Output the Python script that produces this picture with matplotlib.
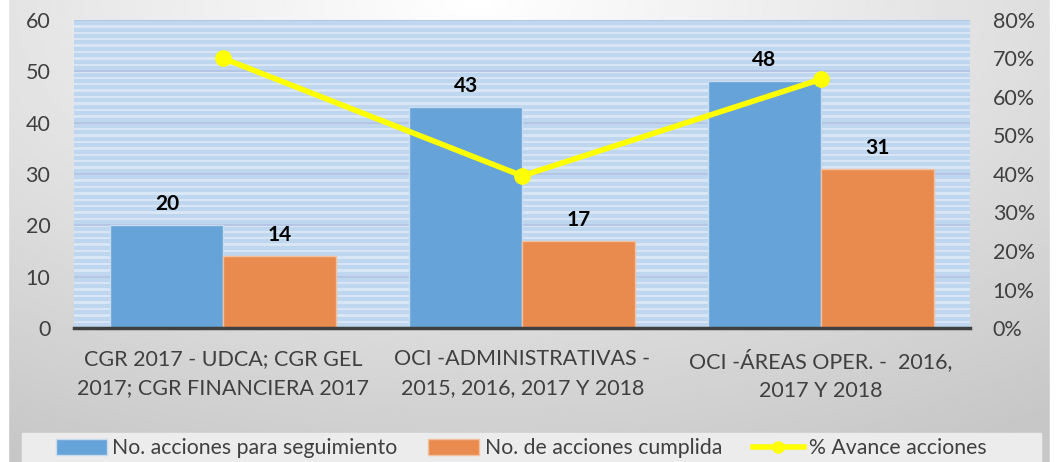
import numpy as np
import matplotlib.pyplot as plt
from matplotlib.lines import Line2D
from matplotlib.patches import Patch, Rectangle

plt.rcParams['font.family'] = ['Lato', 'DejaVu Sans']

# data
categorias = ["CGR 2017 - UDCA; CGR GEL\n2017; CGR FINANCIERA 2017",
              "OCI -ADMINISTRATIVAS -\n2015, 2016, 2017 Y 2018",
              "OCI -ÁREAS OPER. -  2016,\n2017 Y 2018"]
seguimiento = [20, 43, 48]
cumplidas = [14, 17, 31]
avance = [0.70, 0.395, 0.646]

fig = plt.figure(figsize=(10.56, 4.62), dpi=100)

# gray gradient background
bg = fig.add_axes([0, 0, 1, 1], zorder=-10)
yy, xx = np.mgrid[0:1:200j, 0:1:400j]
r = np.sqrt(((xx - 0.45) * 1.1) ** 2 + ((yy - 0.0) * 0.9) ** 2)
bg.imshow(1 - 0.22 * np.clip(r, 0, 1), cmap='gray', vmin=0, vmax=1,
          extent=[0, 1, 0, 1], aspect='auto', origin='upper')
bg.add_patch(Rectangle((0, 0), 0.008, 1, color='#ffffff', zorder=2))
bg.add_patch(Rectangle((0.021, 0), 0.965, 0.062, color='#ececec', zorder=2))
bg.add_patch(Rectangle((0.994, 0), 0.006, 1, color='#ffffff', zorder=2))
bg.set_xlim(0, 1)
bg.set_ylim(0, 1)
bg.axis('off')

ax = fig.add_axes([0.070, 0.290, 0.849, 0.667])
ax.set_facecolor('#dae7f5')
for y in np.arange(0.6, 60, 1.25):
    ax.axhline(y, color='#bed6ee', lw=3.0, zorder=0)
for y in range(10, 61, 10):
    ax.axhline(y, color='#aebfe2', lw=1.2, zorder=0.5)

x = np.arange(len(categorias))
w = 0.378
b1 = ax.bar(x - w / 2, seguimiento, w, color='#66a3d8', edgecolor='#c8dcf0', lw=1, zorder=2)
b2 = ax.bar(x + w / 2, cumplidas, w, color='#e98b4f', edgecolor='#f3bf9e', lw=1, zorder=2)
for bars in (b1, b2):
    for b in bars:
        ax.annotate(f"{int(b.get_height())}", (b.get_x() + b.get_width() / 2, b.get_height()),
                    xytext=(0, 8), textcoords='offset points', ha='center', va='bottom',
                    fontsize=15, fontweight='bold', color='black')

ax.set_xlim(-0.5, 2.5)
ax.set_ylim(0, 60)
ax.set_yticks(range(0, 61, 10))
ax.set_xticks(x)
ax.set_xticklabels(categorias, fontsize=15, color='#404040', linespacing=1.6)
ax.tick_params(axis='both', length=0, labelsize=15.5, labelcolor='#404040')
ax.tick_params(axis='y', pad=17)
ax.tick_params(axis='x', pad=15)
for s in ['top', 'right', 'left']:
    ax.spines[s].set_visible(False)
ax.spines['bottom'].set_color('#404040')
ax.spines['bottom'].set_linewidth(2.5)

ax2 = ax.twinx()
ax2.plot(x, avance, color='#ffff00', lw=4, marker='o', ms=11, zorder=5)
ax2.set_ylim(0, 0.8)
ax2.set_yticks(np.arange(0, 0.81, 0.1))
ax2.set_yticklabels([f"{int(round(v * 100))}%" for v in np.arange(0, 0.81, 0.1)])
ax2.tick_params(axis='y', length=0, labelsize=15.5, labelcolor='#404040', pad=16)
for s in ax2.spines.values():
    s.set_visible(False)

handles = [Patch(facecolor='#66a3d8', edgecolor='#c8dcf0'),
           Patch(facecolor='#e98b4f', edgecolor='#f3bf9e'),
           Line2D([0], [0], color='#ffff00', lw=4, marker='o', ms=8)]
labels = ["No. acciones para seguimiento", "No. de acciones cumplida", "% Avance acciones"]
fig.legend(handles, labels, loc='center left', bbox_to_anchor=(0.053, 0.030), ncol=3,
           frameon=False, fontsize=15.3, handlelength=2.4, handleheight=0.75,
           columnspacing=1.45, handletextpad=0.25, labelcolor='#404040',
           borderpad=0, borderaxespad=0)

fig.savefig('out.png', dpi=100)
